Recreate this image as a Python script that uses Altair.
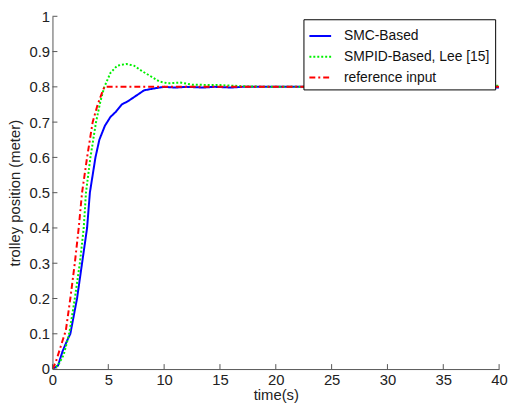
import altair as alt
import pandas as pd

# ---- data ----
t_smc = [0, 0.5, 0.9, 1.3, 1.6, 2.2, 2.65, 3.1, 3.35, 3.6, 3.85, 4.2, 4.7, 5.2, 5.7, 6.2, 6.8, 7.5, 8.2, 9.0,
         10.0, 11.0, 12.0, 13.5, 14.5, 16.0, 17.0, 20.0, 25.0, 30.0, 35.0, 38.0, 40.0]
y_smc = [0, 0.01, 0.05, 0.08, 0.10, 0.20, 0.30, 0.40, 0.50, 0.55, 0.60, 0.65, 0.69, 0.715, 0.73, 0.75, 0.76, 0.775, 0.79, 0.795,
         0.80, 0.798, 0.80, 0.798, 0.80, 0.798, 0.80, 0.80, 0.80, 0.80, 0.80, 0.798, 0.798]

t_pid = [0, 0.5, 1.0, 1.5, 2.0, 2.45, 2.8, 3.0, 3.4, 3.9, 4.3, 4.65, 5.2, 5.8, 6.6, 7.3, 8.0, 8.8, 9.6, 10.3,
         11.5, 12.5, 15.0, 17.5, 20.0, 25.0, 30.0, 35.0, 38.0, 40.0]
y_pid = [0, 0.01, 0.04, 0.10, 0.20, 0.30, 0.40, 0.50, 0.60, 0.70, 0.76, 0.80, 0.84, 0.86, 0.865, 0.86, 0.845, 0.83, 0.815, 0.81,
         0.812, 0.806, 0.805, 0.801, 0.80, 0.80, 0.80, 0.801, 0.803, 0.803]

t_ref = [0, 0.3, 0.7, 1.0, 1.2, 1.6, 2.0, 2.35, 2.65, 3.1, 3.6, 4.05, 4.4, 4.65, 40.0]
y_ref = [0, 0.02, 0.06, 0.09, 0.11, 0.20, 0.30, 0.40, 0.50, 0.60, 0.70, 0.75, 0.78, 0.80, 0.80]

series_names = ["SMC-Based", "SMPID-Based, Lee [15]", "reference input"]
series_colors = ["#0000ff", "#00f000", "#ff0000"]
series_dash = [[1, 0], [2, 2], [6, 3, 2, 3]]

x_ticks = [0, 5, 10, 15, 20, 25, 30, 35, 40]
y_ticks = [0, 0.1, 0.2, 0.3, 0.4, 0.5, 0.6, 0.7, 0.8, 0.9, 1.0]

rows = []
for name, ts, ys in zip(series_names, [t_smc, t_pid, t_ref], [y_smc, y_pid, y_ref]):
    for i, (t, y) in enumerate(zip(ts, ys)):
        rows.append({"series": name, "t": t, "y": y, "i": i})
df = pd.DataFrame(rows)

W, H = 452, 357
FONT = "Liberation Sans"
AX = "#555555"
FS = 15

xscale = alt.Scale(domain=[0, 40], nice=False)
yscale = alt.Scale(domain=[0, 1], nice=False)
xaxis = alt.Axis(title="time(s)", values=x_ticks, ticks=False, grid=False,
                 labelPadding=4, titlePadding=0, labelOverlap=False, labelFlush=False)
yaxis = alt.Axis(title="trolley position (meter)", values=y_ticks, ticks=False, grid=False,
                 labelPadding=3, titlePadding=7, format="~g",
                 labelOverlap=False, labelFlush=False)

lines = alt.Chart(df).mark_line(strokeWidth=2, clip=True).encode(
    x=alt.X("t:Q", scale=xscale, axis=xaxis, title="time(s)"),
    y=alt.Y("y:Q", scale=yscale, axis=yaxis, title="trolley position (meter)"),
    color=alt.Color("series:N", scale=alt.Scale(domain=series_names, range=series_colors),
                    sort=series_names, legend=alt.Legend(title=None)),
    strokeDash=alt.StrokeDash("series:N", scale=alt.Scale(domain=series_names, range=series_dash),
                              sort=series_names, legend=alt.Legend(title=None)),
    order="i:Q",
)

xt = alt.Chart(pd.DataFrame({"t": x_ticks})).mark_rule(color=AX, strokeWidth=1).encode(
    x=alt.X("t:Q", scale=xscale, axis=xaxis, title="time(s)"), y=alt.value(H), y2=alt.value(H - 5))
yt = alt.Chart(pd.DataFrame({"y": y_ticks})).mark_rule(color=AX, strokeWidth=1).encode(
    y=alt.Y("y:Q", scale=yscale, axis=yaxis, title="trolley position (meter)"), x=alt.value(0), x2=alt.value(5))

chart = alt.layer(lines, xt, yt).properties(
    width=W, height=H,
    autosize=alt.AutoSizeParams(type="none"),
    padding={"left": 45, "top": 6, "right": 9, "bottom": 36},
).configure_view(stroke=None).configure_axis(
    domainColor=AX, labelColor="#222222", titleColor="#222222",
    labelFont=FONT, titleFont=FONT, labelFontSize=FS, titleFontSize=FS,
    titleFontWeight="normal",
).configure_legend(
    orient="none", legendX=254, legendY=3,
    strokeColor="black", fillColor="white", padding=5, cornerRadius=0,
    symbolType="stroke", symbolSize=484, symbolStrokeWidth=2,
    labelFont=FONT, labelFontSize=14, labelColor="#111111", labelOffset=12,
    rowPadding=2, labelLimit=300,
)

chart.save("out.html", embed_options={"renderer": "svg", "actions": False})
